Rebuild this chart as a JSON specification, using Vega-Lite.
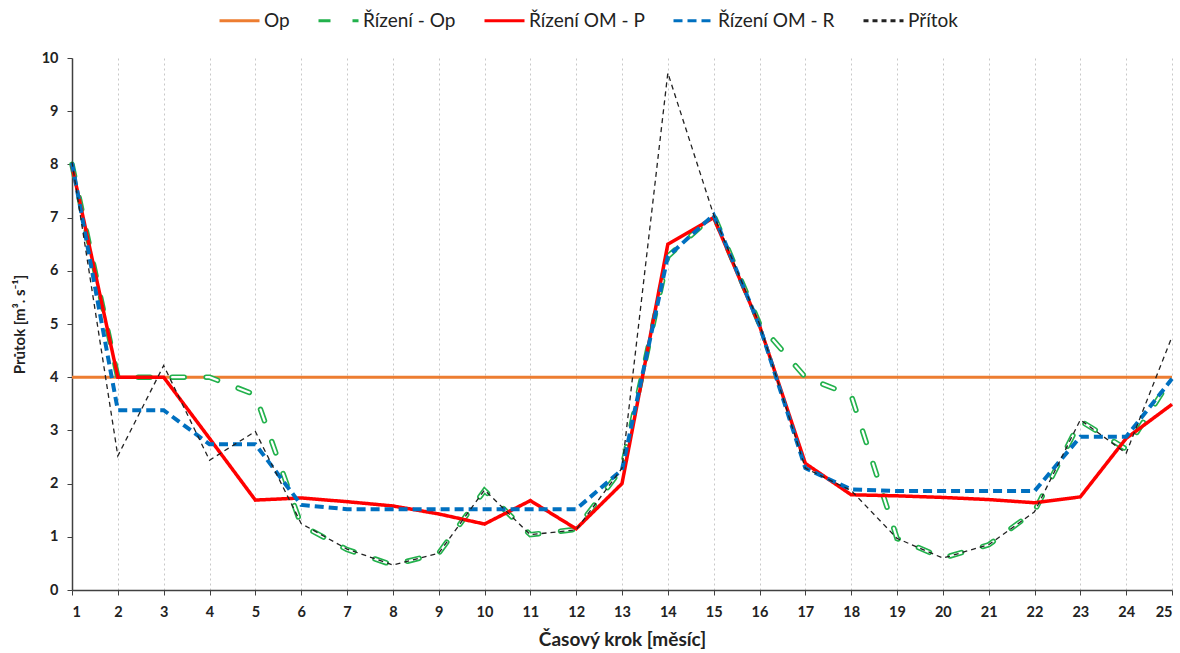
{
  "$schema": "https://vega.github.io/schema/vega-lite/v6.json",
  "width": 1100,
  "height": 532,
  "autosize": {"type": "none"},
  "padding": {"left": 72, "top": 58, "right": 8, "bottom": 63},
  "background": "white",
  "config": {"view": {"stroke": null}, "font": "Lato"},
  "data": {"values": [
    {"x": 1, "Op": 4, "Řízení - Op": 8.0, "Řízení OM - P": 7.97, "Řízení OM - R": 8.03, "Přítok": 8.05},
    {"x": 2, "Op": 4, "Řízení - Op": 4.0, "Řízení OM - P": 4.0, "Řízení OM - R": 3.38, "Přítok": 2.52},
    {"x": 3, "Op": 4, "Řízení - Op": 4.0, "Řízení OM - P": 4.0, "Řízení OM - R": 3.38, "Přítok": 4.22},
    {"x": 4, "Op": 4, "Řízení - Op": 4.0, "Řízení OM - P": 2.85, "Řízení OM - R": 2.74, "Přítok": 2.44},
    {"x": 5, "Op": 4, "Řízení - Op": 3.67, "Řízení OM - P": 1.69, "Řízení OM - R": 2.74, "Přítok": 2.98},
    {"x": 6, "Op": 4, "Řízení - Op": 1.22, "Řízení OM - P": 1.73, "Řízení OM - R": 1.6, "Přítok": 1.25},
    {"x": 7, "Op": 4, "Řízení - Op": 0.76, "Řízení OM - P": 1.66, "Řízení OM - R": 1.52, "Přítok": 0.77},
    {"x": 8, "Op": 4, "Řízení - Op": 0.47, "Řízení OM - P": 1.58, "Řízení OM - R": 1.52, "Přítok": 0.47},
    {"x": 9, "Op": 4, "Řízení - Op": 0.69, "Řízení OM - P": 1.43, "Řízení OM - R": 1.52, "Přítok": 0.69},
    {"x": 10, "Op": 4, "Řízení - Op": 1.87, "Řízení OM - P": 1.24, "Řízení OM - R": 1.52, "Přítok": 1.88},
    {"x": 11, "Op": 4, "Řízení - Op": 1.04, "Řízení OM - P": 1.68, "Řízení OM - R": 1.52, "Přítok": 1.04},
    {"x": 12, "Op": 4, "Řízení - Op": 1.14, "Řízení OM - P": 1.15, "Řízení OM - R": 1.52, "Přítok": 1.13},
    {"x": 13, "Op": 4, "Řízení - Op": 2.29, "Řízení OM - P": 2.0, "Řízení OM - R": 2.26, "Přítok": 2.29},
    {"x": 14, "Op": 4, "Řízení - Op": 6.27, "Řízení OM - P": 6.5, "Řízení OM - R": 6.27, "Přítok": 9.72},
    {"x": 15, "Op": 4, "Řízení - Op": 7.05, "Řízení OM - P": 7.0, "Řízení OM - R": 7.05, "Přítok": 7.05},
    {"x": 16, "Op": 4, "Řízení - Op": 5.0, "Řízení OM - P": 4.97, "Řízení OM - R": 4.97, "Přítok": 5.0},
    {"x": 17, "Op": 4, "Řízení - Op": 4.0, "Řízení OM - P": 2.38, "Řízení OM - R": 2.29, "Přítok": 2.29},
    {"x": 18, "Op": 4, "Řízení - Op": 3.66, "Řízení OM - P": 1.79, "Řízení OM - R": 1.89, "Přítok": 1.87},
    {"x": 19, "Op": 4, "Řízení - Op": 0.97, "Řízení OM - P": 1.77, "Řízení OM - R": 1.86, "Přítok": 0.97},
    {"x": 20, "Op": 4, "Řízení - Op": 0.6, "Řízení OM - P": 1.74, "Řízení OM - R": 1.86, "Přítok": 0.6},
    {"x": 21, "Op": 4, "Řízení - Op": 0.85, "Řízení OM - P": 1.7, "Řízení OM - R": 1.86, "Přítok": 0.85},
    {"x": 22, "Op": 4, "Řízení - Op": 1.48, "Řízení OM - P": 1.64, "Řízení OM - R": 1.86, "Přítok": 1.47},
    {"x": 23, "Op": 4, "Řízení - Op": 3.18, "Řízení OM - P": 1.75, "Řízení OM - R": 2.88, "Přítok": 3.2},
    {"x": 24, "Op": 4, "Řízení - Op": 2.65, "Řízení OM - P": 2.85, "Řízení OM - R": 2.88, "Přítok": 2.57},
    {"x": 25, "Op": 4, "Řízení - Op": 4.0, "Řízení OM - P": 3.49, "Řízení OM - R": 3.97, "Přítok": 4.76}
  ]},
  "transform": [{"fold": ["Op", "Řízení - Op", "Řízení OM - P", "Řízení OM - R", "Přítok"], "as": ["series", "value"]}],
  "encoding": {
    "x": {
      "field": "x", "type": "quantitative",
      "scale": {"domain": [1, 25], "nice": false, "zero": false},
      "axis": {
        "values": [1,2,3,4,5,6,7,8,9,10,11,12,13,14,15,16,17,18,19,20,21,22,23,24,25],
        "format": "d",
        "title": "Časový krok [měsíc]",
        "titleFontSize": 19, "titleFontWeight": "bold", "titleColor": "#222", "titlePadding": 12,
        "labelFontSize": 14.5, "labelFontWeight": "bold", "labelColor": "#222", "labelPadding": 10,
        "tickSize": 5, "tickColor": "#404040", "domainColor": "#404040", "domainWidth": 1.5,
        "grid": true, "gridDash": [2, 3], "gridColor": "#c8c8c8", "gridWidth": 1
      }
    },
    "y": {
      "field": "value", "type": "quantitative",
      "scale": {"domain": [0, 10], "nice": false},
      "axis": {
        "values": [0,1,2,3,4,5,6,7,8,9,10],
        "title": "Průtok [m³. s⁻¹]",
        "titleFontSize": 15, "titleFontWeight": "bold", "titleColor": "#222", "titlePadding": 14,
        "labelFontSize": 14.5, "labelFontWeight": "bold", "labelColor": "#222", "labelPadding": 9,
        "tickSize": 5, "tickColor": "#404040", "domainColor": "#404040", "domainWidth": 1.5,
        "grid": false
      }
    },
    "color": {
      "field": "series", "type": "nominal",
      "scale": {"domain": ["Op", "Řízení - Op", "Řízení OM - P", "Řízení OM - R", "Přítok"],
                "range": ["#ED7D31", "#22B14C", "#FF0000", "#0070C0", "#222222"]},
      "legend": {"title": null, "orient": "none", "legendX": 146, "legendY": -59, "direction": "horizontal", "columns": 5,
                 "symbolType": "stroke", "symbolSize": 1600, "symbolStrokeWidth": 3, "labelFontSize": 19, "labelColor": "#222",
                 "columnPadding": 22, "labelOffset": 3, "padding": 0}
    },
    "strokeDash": {
      "field": "series", "type": "nominal",
      "scale": {"domain": ["Op", "Řízení - Op", "Řízení OM - P", "Řízení OM - R", "Přítok"],
                "range": [[1, 0], [12, 22], [1, 0], [9, 5], [5, 4]]},
      "legend": {"title": null, "orient": "none", "legendX": 146, "legendY": -59, "direction": "horizontal", "columns": 5,
                 "symbolType": "stroke", "symbolSize": 1600, "symbolStrokeWidth": 3, "labelFontSize": 19, "labelColor": "#222",
                 "columnPadding": 22, "labelOffset": 3, "padding": 0}
    }
  },
  "layer": [
    {"transform": [{"filter": {"field": "series", "equal": "Op"}}], "mark": {"type": "line", "strokeWidth": 3}},
    {"transform": [{"filter": {"field": "series", "equal": "Řízení - Op"}}], "mark": {"type": "line", "strokeWidth": 5.5, "strokeCap": "round"}},
    {"transform": [{"filter": {"field": "series", "equal": "Řízení - Op"}}], "mark": {"type": "line", "strokeWidth": 2.2, "strokeCap": "round"},
     "encoding": {"color": {"value": "white"}, "strokeDash": {"value": [12, 22]}}},
    {"transform": [{"filter": {"field": "series", "equal": "Řízení OM - P"}}], "mark": {"type": "line", "strokeWidth": 3.5}},
    {"transform": [{"filter": {"field": "series", "equal": "Řízení OM - R"}}], "mark": {"type": "line", "strokeWidth": 4}},
    {"transform": [{"filter": {"field": "series", "equal": "Přítok"}}], "mark": {"type": "line", "strokeWidth": 1.3}}
  ]
}
